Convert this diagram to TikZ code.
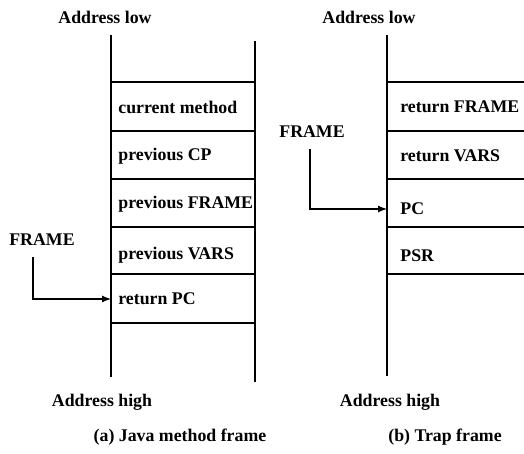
\documentclass[tikz,border=0pt]{standalone}
\usepackage{fontspec}
\setmainfont{Liberation Serif}
\usetikzlibrary{arrows.meta,positioning}
\tikzset{
  lbl/.style={font=\fontsize{8.9}{10}\selectfont\bfseries, inner sep=0pt},
  lcell/.style={lbl, anchor=west, inner xsep=3.5pt},
  rcell/.style={lbl, anchor=west, inner xsep=6.5pt},
  stk/.style={line width=0.6pt},
  arr/.style={-{Latex[length=4.5pt,width=3.5pt]}, line width=0.6pt},
}
\begin{document}
\begin{tikzpicture}[x=0.5pt,y=-0.5pt]
\useasboundingbox (0,0) rectangle (524,454);
% (a) Java method frame
\draw[stk] (111,35) -- (111,377);
\draw[stk] (255,41) -- (255,382);
\foreach \y in {82,131,179,227,274,323} \draw[stk] (111,\y) -- (255,\y);
\node[lbl] (lowA) at (105,17) {Address low};
\node[lcell] (curm) at (111,107) {current method};
\node[lcell] (prevcp) at (111,156) {previous CP};
\node[lcell] (prevfr) at (111,204) {previous FRAME};
\node[lcell] (prevvars) at (111,255) {previous VARS};
\node[lcell] (retpc) at (111,299) {return PC};
\node[lbl] (frA) at (42,240) {FRAME};
\coordinate (frAtail) at (33,257);
\draw[arr] (frAtail) |- (retpc.west);
\node[lbl] (highA) at (102,402) {Address high};
\node[lbl] (capA) at (180,437) {(a) Java method frame};
% (b) Trap frame
\draw[stk] (387,35) -- (387,376);
\foreach \y in {82,131,179,227,274} \draw[stk] (387,\y) -- (524,\y);
\node[lbl] (lowB) at (369,17) {Address low};
\node[rcell] (retfr) at (387,107) {return FRAME};
\node[rcell] (retvars) at (387,156) {return VARS};
\node[rcell] (pc) at (387,209) {PC};
\node[rcell] (psr) at (387,256) {PSR};
\node[lbl] (frB) at (312,132) {FRAME};
\coordinate (frBtail) at (310,149);
\draw[arr] (frBtail) |- (pc.west);
\node[lbl] (highB) at (390,402) {Address high};
\node[lbl] (capB) at (445,437) {(b) Trap frame};
\end{tikzpicture}
\end{document}
